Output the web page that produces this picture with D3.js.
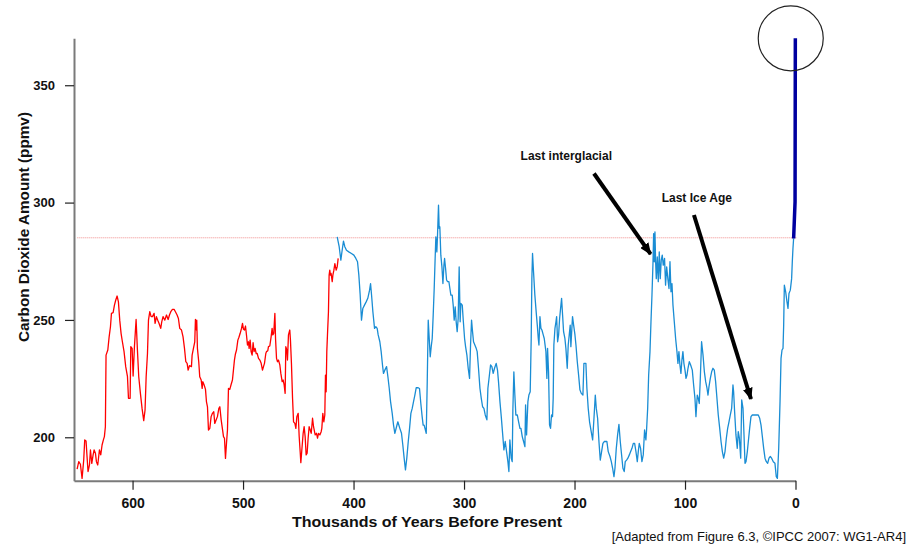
<!DOCTYPE html>
<html>
<head>
<meta charset="utf-8">
<script src="https://cdn.jsdelivr.net/npm/d3@7"></script>
<style>
  body { margin: 0; background: #fff; }
  text { font-family: "Liberation Sans", Arial, sans-serif; }
</style>
</head>
<body>
<div id="chart"></div>
<script>
// ice core CO2, [thousand years before present, ppmv]
const domeC = [[650.2,186.4],[648.7,189.6],[647.2,188.5],[645.7,182.5],[644.2,190.3],[643.3,198.9],[642.1,198.4],[641.2,191.8],[640.3,185.4],[639.0,188.2],[638.1,194.6],[636.9,188.9],[635.7,192.5],[634.8,194.6],[633.6,193.2],[632.7,189.6],[631.5,188.2],[630.0,194.6],[628.8,192.5],[627.6,196.7],[626.4,198.9],[625.5,200.3],[624.6,204.5],[624.0,235.0],[622.4,237.2],[621.2,242.8],[620.0,247.1],[619.1,252.8],[617.6,253.1],[616.4,256.3],[615.2,258.5],[614.0,260.2],[612.8,257.7],[611.6,249.9],[610.4,244.3],[609.2,240.7],[607.7,236.5],[606.2,230.1],[604.6,225.8],[603.7,216.6],[602.2,216.6],[601.6,238.6],[600.4,237.9],[599.5,226.1],[598.3,238.6],[596.8,250.2],[595.6,237.2],[594.4,225.8],[592.9,218.7],[591.4,212.3],[589.9,207.1],[588.7,211.6],[587.7,225.8],[586.5,235.7],[585.6,249.9],[584.4,253.5],[583.2,251.4],[582.0,251.4],[580.5,252.8],[579.6,248.5],[578.4,251.4],[577.2,249.9],[576.0,248.5],[574.5,246.4],[573.6,249.2],[572.4,251.4],[570.8,249.9],[569.3,252.1],[567.8,250.2],[566.6,252.1],[565.4,253.5],[563.9,254.5],[562.4,254.5],[561.2,253.5],[559.7,252.1],[558.5,250.6],[557.3,246.4],[555.7,245.7],[554.3,242.8],[553.0,237.9],[551.8,232.2],[550.6,231.5],[549.7,228.6],[548.5,230.5],[546.7,230.1],[546.1,235.0],[544.9,237.9],[543.7,240.7],[543.1,250.2],[542.2,245.7],[541.9,249.9],[541.3,237.9],[540.1,232.2],[539.2,225.8],[537.9,224.4],[537.0,220.8],[536.4,223.7],[535.2,222.3],[534.0,220.4],[533.1,215.1],[532.2,213.0],[531.3,203.1],[530.1,203.8],[528.9,208.8],[527.7,210.2],[526.5,210.9],[525.6,205.9],[524.4,207.4],[523.2,208.8],[521.9,212.3],[521.0,213.0],[519.8,207.4],[518.6,203.4],[517.7,200.3],[516.8,199.6],[515.9,191.0],[515.0,197.4],[514.1,203.1],[513.2,220.8],[512.0,220.4],[510.8,222.5],[509.6,224.4],[508.7,228.6],[507.8,232.9],[506.9,235.5],[505.9,237.2],[504.7,241.4],[503.8,242.5],[502.6,244.3],[501.4,246.4],[500.5,248.5],[499.6,246.0],[498.7,245.7],[497.8,247.4],[496.9,243.6],[496.0,239.3],[495.1,240.7],[494.5,237.9],[493.6,241.4],[492.7,236.5],[491.8,235.0],[490.9,240.3],[490.0,236.5],[489.1,237.9],[488.1,235.7],[487.2,235.7],[486.0,233.6],[484.8,232.9],[483.6,231.5],[482.4,228.6],[481.5,230.1],[480.6,231.5],[479.4,235.7],[478.8,236.5],[477.6,236.9],[477.0,238.6],[475.8,238.9],[474.6,242.8],[473.7,246.4],[473.1,243.6],[472.2,244.3],[471.2,252.8],[470.9,247.8],[470.6,242.1],[469.7,233.6],[468.8,232.2],[467.9,232.9],[466.7,230.8],[465.8,227.2],[464.6,223.7],[463.7,224.4],[462.8,222.3],[461.9,218.7],[461.3,238.6],[460.4,237.2],[459.8,232.9],[458.9,243.6],[457.7,245.7],[457.1,241.4],[456.2,231.5],[455.2,216.6],[454.3,206.6],[453.1,205.9],[452.2,203.8],[451.3,208.8],[450.1,210.2],[449.2,200.3],[448.3,193.9],[447.7,189.2],[446.8,194.6],[445.6,201.7],[444.7,204.5],[443.8,200.3],[442.9,192.5],[442.0,193.2],[441.1,199.6],[440.2,204.5],[439.2,203.1],[438.3,201.7],[437.1,208.1],[436.2,204.5],[435.0,201.7],[434.7,201.0],[433.5,201.7],[432.6,199.6],[431.7,201.7],[430.5,201.0],[429.3,202.4],[428.7,203.8],[427.8,210.2],[426.9,206.6],[426.0,209.5],[425.4,226.5],[424.8,219.4],[424.2,236.5],[423.6,243.6],[422.7,253.5],[422.1,269.1],[421.5,271.2],[420.9,269.1],[420.3,269.8],[419.3,266.3],[418.7,269.1],[417.8,271.2],[416.9,274.0],[415.7,271.2],[414.8,272.6],[413.9,276.2]];

const vostok = [[414.8,285.4],[413.0,281.2],[411.5,275.5],[410.3,279.7],[409.1,283.6],[407.9,281.2],[406.4,279.7],[404.3,279.0],[401.9,278.3],[399.7,277.6],[397.9,276.2],[396.4,274.8],[395.2,269.1],[394.0,260.6],[392.8,249.9],[391.6,254.9],[390.1,256.3],[388.6,257.7],[387.1,259.2],[385.5,262.7],[384.6,265.5],[383.7,260.6],[382.5,253.5],[381.0,246.4],[379.8,247.1],[378.6,246.4],[377.7,243.6],[376.2,240.7],[375.0,236.5],[373.8,230.8],[372.9,227.2],[371.7,228.6],[370.1,230.1],[368.9,225.8],[367.7,220.9],[366.5,215.2],[365.0,210.2],[363.8,205.2],[362.6,201.7],[361.1,204.5],[359.9,206.6],[358.1,203.8],[356.6,201.7],[355.4,196.7],[354.2,191.1],[353.0,186.1],[351.8,191.1],[350.5,198.1],[349.3,203.8],[348.1,210.2],[346.9,212.3],[345.7,215.2],[344.5,218.0],[343.3,221.1],[341.5,221.1],[340.3,220.8],[339.1,214.4],[337.9,208.8],[337.0,205.2],[336.1,205.2],[334.2,201.7],[333.3,223.7],[332.4,249.9],[331.5,242.1],[330.6,234.3],[329.7,238.6],[328.8,242.1],[327.9,252.1],[327.0,263.4],[326.1,276.9],[325.5,285.4],[324.6,279.0],[324.0,286.1],[323.1,298.9],[322.5,289.0],[321.9,289.7],[321.0,277.6],[320.0,272.6],[319.1,265.5],[318.2,273.3],[317.6,276.2],[316.7,271.9],[315.8,267.0],[314.9,266.3],[313.7,266.3],[312.8,263.4],[311.9,260.6],[310.7,260.6],[309.8,256.3],[308.9,249.9],[308.0,255.6],[307.1,249.2],[306.2,245.0],[305.3,250.6],[304.4,272.6],[303.5,249.2],[302.9,257.0],[301.6,256.3],[300.7,249.9],[299.5,242.1],[298.6,238.6],[297.4,235.0],[296.2,229.3],[295.0,225.1],[294.1,239.3],[293.2,249.9],[292.3,245.0],[291.4,240.7],[290.2,239.3],[289.0,237.9],[288.1,236.5],[286.9,229.4],[285.6,220.9],[284.4,216.6],[283.2,213.0],[282.0,212.3],[280.8,209.5],[279.3,207.4],[278.4,220.9],[277.2,225.8],[276.0,230.8],[274.8,230.1],[273.6,227.2],[272.4,229.4],[270.9,231.5],[269.7,228.6],[268.8,223.7],[267.5,215.2],[266.3,208.8],[265.1,201.7],[263.9,194.6],[262.7,198.2],[261.5,193.9],[260.3,189.6],[259.4,185.4],[258.5,198.9],[257.3,191.1],[256.4,189.6],[255.8,211.6],[254.9,227.9],[254.0,218.0],[253.1,209.5],[251.8,209.5],[250.6,206.6],[249.4,203.8],[248.5,203.8],[247.3,200.3],[246.1,198.2],[244.9,196.0],[244.3,213.8],[243.4,201.0],[242.2,215.2],[241.3,218.0],[240.1,219.4],[239.2,242.1],[238.6,267.6],[238.0,278.3],[237.1,270.5],[235.9,260.6],[234.6,252.8],[233.7,247.8],[232.8,242.1],[232.2,239.3],[231.3,251.4],[230.4,246.4],[229.5,245.7],[228.3,243.6],[227.4,242.1],[225.9,236.5],[225.0,225.1],[224.4,237.9],[223.5,227.9],[222.6,205.2],[221.7,203.8],[220.8,209.5],[219.9,208.8],[219.3,216.6],[218.7,239.3],[217.7,246.4],[216.8,249.2],[216.2,251.4],[215.3,240.7],[214.4,243.6],[213.5,250.6],[212.6,254.9],[211.7,259.2],[210.8,252.1],[209.9,245.0],[208.7,242.1],[207.8,237.9],[206.6,229.4],[205.7,239.3],[204.8,243.6],[203.9,247.8],[203.3,238.6],[202.4,246.4],[201.8,251.4],[200.8,247.8],[199.6,243.6],[198.7,239.3],[197.5,232.2],[196.3,226.5],[195.1,220.2],[193.9,218.7],[192.4,218.0],[191.5,231.5],[189.7,231.5],[188.8,220.9],[187.6,212.3],[186.4,206.6],[184.9,202.4],[183.6,198.9],[182.4,208.1],[181.2,218.0],[180.3,212.3],[179.1,208.1],[177.9,198.2],[176.7,190.3],[175.5,193.9],[174.3,197.4],[173.1,198.2],[170.7,198.2],[169.5,193.9],[167.9,191.8],[166.7,189.6],[165.5,186.8],[164.3,183.2],[163.4,186.8],[162.2,195.3],[161.0,201.0],[159.8,205.5],[158.6,198.2],[157.4,192.5],[156.2,186.8],[155.0,185.4],[154.1,189.6],[152.9,190.3],[151.7,191.1],[150.4,192.5],[149.2,193.9],[148.0,195.3],[146.8,197.4],[145.6,197.4],[144.4,193.9],[143.2,189.6],[142.3,193.9],[141.4,197.4],[140.2,195.3],[139.0,189.6],[137.8,192.5],[136.6,203.1],[135.4,198.9],[134.8,203.1],[133.8,212.3],[132.9,226.5],[131.7,236.5],[130.8,249.2],[129.9,260.6],[129.0,274.0],[128.4,286.8],[127.8,274.8],[127.2,287.5],[126.6,274.8],[126.0,267.6],[125.1,276.9],[124.2,266.3],[123.3,279.0],[122.4,267.6],[121.5,275.5],[120.6,277.6],[119.7,273.3],[118.5,276.2],[117.6,264.8],[116.6,272.6],[115.4,267.0],[114.5,263.4],[113.6,274.8],[112.7,262.0],[111.8,265.5],[110.9,256.3],[109.7,249.2],[108.5,242.1],[107.3,236.5],[106.4,231.5],[105.5,236.5],[104.6,230.8],[103.7,227.2],[102.8,232.9],[101.9,236.5],[101.0,231.5],[100.0,228.6],[99.1,225.1],[98.2,226.5],[97.3,229.4],[96.1,232.2],[94.9,230.8],[93.4,228.6],[92.2,222.3],[91.0,216.6],[90.1,208.8],[88.9,218.0],[88.0,216.6],[87.1,214.4],[86.2,224.4],[85.0,240.7],[83.7,235.0],[82.5,228.0],[81.3,223.7],[80.1,220.9],[79.2,218.0],[78.3,221.6],[77.1,225.1],[75.9,227.9],[74.7,229.4],[73.5,228.6],[72.3,223.7],[71.1,216.6],[69.9,209.5],[68.6,203.8],[67.4,198.2],[66.2,193.9],[65.0,191.1],[63.8,193.9],[62.6,199.6],[61.4,203.8],[60.2,206.6],[59.0,209.5],[57.8,212.3],[56.6,222.3],[56.0,219.4],[55.1,210.9],[53.9,201.0],[52.7,195.3],[51.8,202.4],[50.8,199.6],[49.6,191.1],[48.7,215.9],[47.5,212.3],[46.6,201.0],[45.7,188.9],[44.8,189.6],[43.6,193.9],[42.7,198.2],[41.5,203.8],[40.3,208.8],[39.1,209.5],[37.6,209.5],[35.8,209.5],[33.7,209.5],[32.4,208.1],[31.2,205.2],[30.0,200.3],[28.8,195.3],[27.6,191.1],[26.4,189.6],[25.2,188.9],[24.0,191.1],[22.8,191.8],[21.6,191.1],[20.1,189.6],[18.6,188.9],[17.4,183.2],[16.4,182.5],[15.2,195.3],[14.0,215.2],[13.1,233.6],[12.2,237.2],[11.3,237.9],[10.7,247.8],[10.1,264.8],[8.9,262.0],[7.7,257.7],[6.8,254.9],[5.9,261.3],[4.7,262.7],[3.5,267.6],[2.9,274.8],[2.3,280.4],[1.7,284.7]];

// instrumental era
const modern = [[1.7,284.7],[0.4,300.3],[0.15,370]];

const xTicks = [600, 500, 400, 300, 200, 100, 0];
const yTicks = [200, 250, 300, 350];
const preIndustrial = 285;
const preIndustrialSpan = [650, -1];
const highlightAt = [4.3, 370];

const noteLabels = ["Last interglacial", "Last Ice Age"];
const noteTextAt = [[248.8, 319.8], [121.1, 302.0]];
const noteArrowFrom = [[182.4, 312.4], [91.9, 294.7]];
const noteArrowTo = [[131.1, 278.0], [40.3, 216.3]];

const width = 914, height = 551;

const x = d3.scaleLinear().domain([653, 0]).range([74, 795.5]);
const y = d3.scaleLinear().domain([181.5, 370]).range([480.7, 38.3]);

const svg = d3.select('#chart')
    .append('svg')
    .attr('width', width)
    .attr('height', height);

svg.append('defs').append('marker')
    .attr('id', 'head')
    .attr('markerUnits', 'userSpaceOnUse')
    .attr('viewBox', '0 0 12 10')
    .attr('markerWidth', 12)
    .attr('markerHeight', 10)
    .attr('refX', 11)
    .attr('refY', 5)
    .attr('orient', 'auto')
    .append('path')
    .attr('d', 'M0,0L12,5L0,10Z')
    .attr('fill', '#000');

// pre-industrial reference level
svg.append('line')
    .attr('x1', x(preIndustrialSpan[0]))
    .attr('x2', x(preIndustrialSpan[1]))
    .attr('y1', y(preIndustrial))
    .attr('y2', y(preIndustrial))
    .attr('stroke', '#f08c8c')
    .attr('stroke-width', 1)
    .attr('stroke-dasharray', '1,1');

const line = d3.line()
    .x(d => x(d[0]))
    .y(d => y(d[1]));

svg.append('path')
    .datum(vostok)
    .attr('fill', 'none')
    .attr('stroke', '#1a8dd4')
    .attr('stroke-width', 1.3)
    .attr('stroke-linejoin', 'round')
    .attr('d', line);

svg.append('path')
    .datum(domeC)
    .attr('fill', 'none')
    .attr('stroke', '#ff0000')
    .attr('stroke-width', 1.3)
    .attr('stroke-linejoin', 'round')
    .attr('d', line);

svg.append('path')
    .datum(modern)
    .attr('fill', 'none')
    .attr('stroke', '#0000a0')
    .attr('stroke-width', 3.5)
    .attr('d', line);

svg.append('circle')
    .attr('cx', x(highlightAt[0]))
    .attr('cy', y(highlightAt[1]))
    .attr('r', 32.5)
    .attr('fill', 'none')
    .attr('stroke', '#222')
    .attr('stroke-width', 1.2);

// axes
const xAxis = svg.append('g')
    .attr('transform', `translate(0,${y.range()[0]})`)
    .call(d3.axisBottom(x).tickValues(xTicks).tickSize(9).tickSizeOuter(0).tickPadding(8));

const yAxis = svg.append('g')
    .attr('transform', `translate(${x.range()[0]},0)`)
    .call(d3.axisLeft(y).tickValues(yTicks).tickSize(9).tickSizeOuter(0).tickPadding(10));

[xAxis, yAxis].forEach(g => {
    g.select('.domain').attr('stroke', '#7a7a7a').attr('stroke-width', 2);
    g.selectAll('.tick line').attr('stroke', '#222').attr('stroke-width', 1.2);
    g.selectAll('.tick text')
        .attr('fill', '#111')
        .style('font-family', '"Liberation Sans", Arial, sans-serif')
        .style('font-weight', 'bold');
});
xAxis.selectAll('.tick text').style('font-size', '14px');
yAxis.selectAll('.tick text').style('font-size', '13px');

svg.append('text')
    .attr('transform', 'translate(24,227) rotate(-90)')
    .attr('text-anchor', 'middle')
    .attr('dy', '0.35em')
    .attr('textLength', 230)
    .attr('lengthAdjust', 'spacingAndGlyphs')
    .style('font-size', '15px')
    .style('font-weight', 'bold')
    .attr('fill', '#111')
    .text('Carbon Dioxide Amount (ppmv)');

svg.append('text')
    .attr('x', 427)
    .attr('y', 522)
    .attr('text-anchor', 'middle')
    .attr('dy', '0.35em')
    .attr('textLength', 270)
    .attr('lengthAdjust', 'spacingAndGlyphs')
    .style('font-size', '15px')
    .style('font-weight', 'bold')
    .attr('fill', '#111')
    .text('Thousands of Years Before Present');

svg.append('text')
    .attr('x', 906)
    .attr('y', 536)
    .attr('text-anchor', 'end')
    .attr('dy', '0.35em')
    .style('font-size', '13px')
    .attr('fill', '#111')
    .text('[Adapted from Figure 6.3, \u00A9IPCC 2007: WG1-AR4]');

// annotations
const notes = svg.append('g');
notes.selectAll('line')
    .data(noteLabels)
    .join('line')
    .attr('x1', (d, i) => x(noteArrowFrom[i][0]))
    .attr('y1', (d, i) => y(noteArrowFrom[i][1]))
    .attr('x2', (d, i) => x(noteArrowTo[i][0]))
    .attr('y2', (d, i) => y(noteArrowTo[i][1]))
    .attr('stroke', '#000')
    .attr('stroke-width', 4)
    .attr('marker-end', 'url(#head)');

notes.selectAll('text')
    .data(noteLabels)
    .join('text')
    .attr('x', (d, i) => x(noteTextAt[i][0]))
    .attr('y', (d, i) => y(noteTextAt[i][1]))
    .attr('dy', '0.35em')
    .style('font-size', '12px')
    .style('font-weight', 'bold')
    .attr('fill', '#111')
    .text(d => d);
</script>
</body>
</html>
